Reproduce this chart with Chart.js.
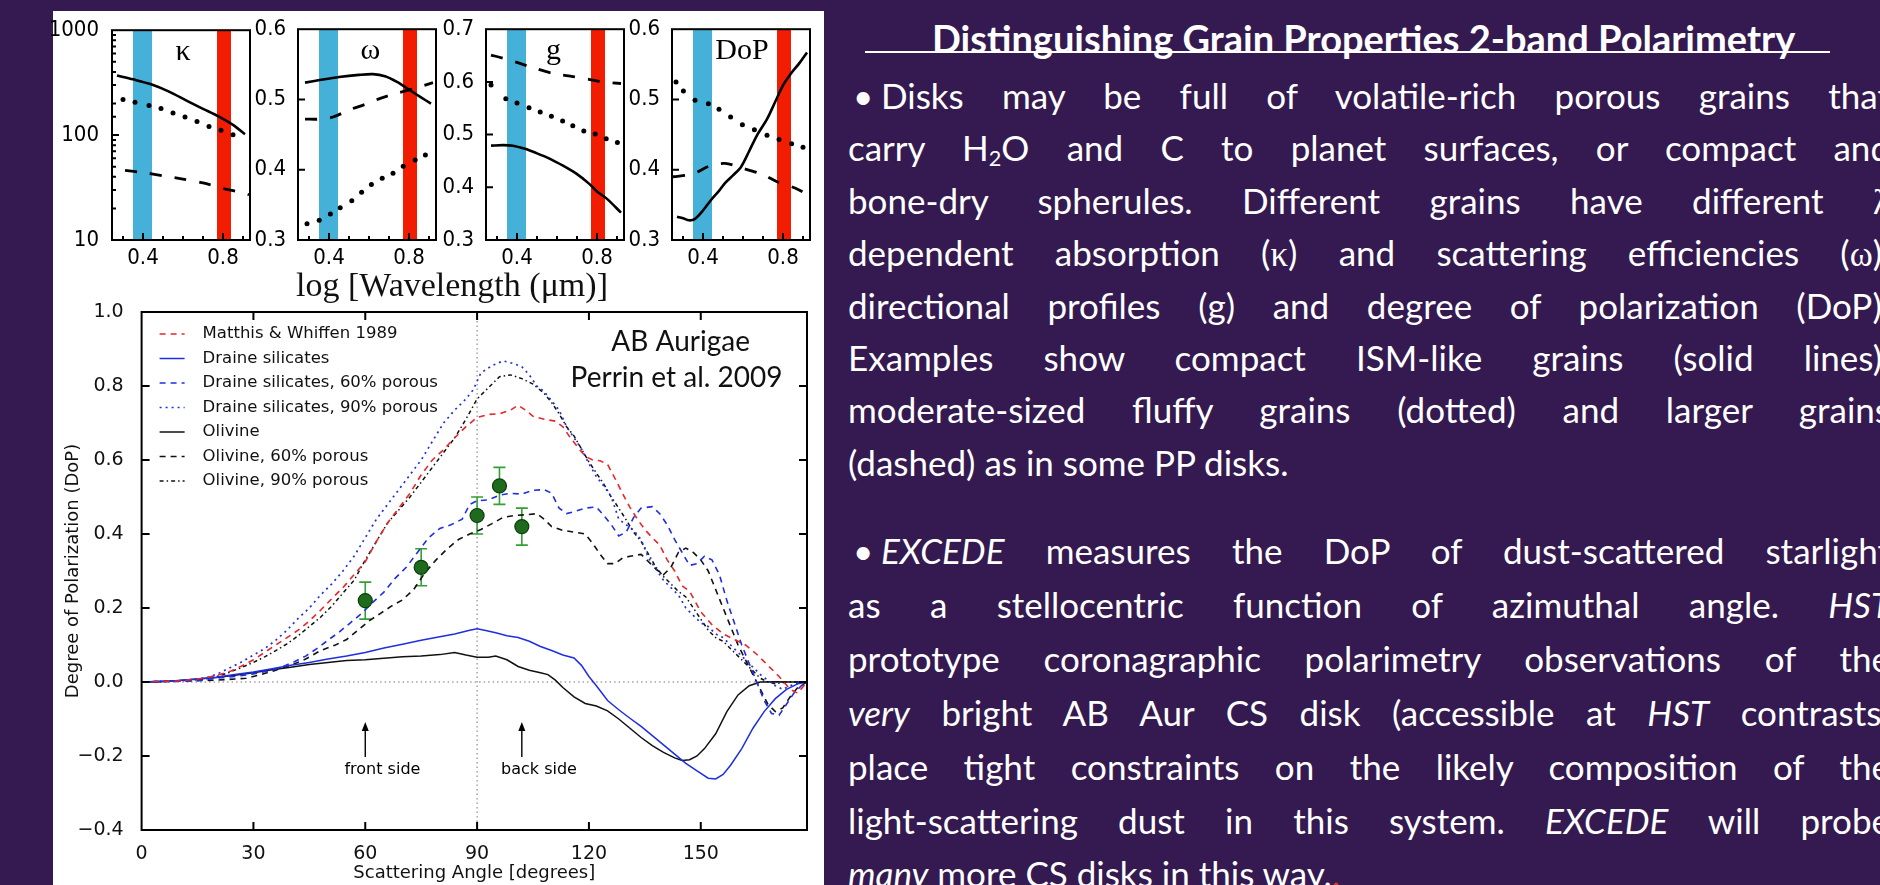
<!DOCTYPE html>
<html>
<head>
<meta charset="utf-8">
<title>Distinguishing Grain Properties 2-band Polarimetry</title>
<script src="https://cdn.jsdelivr.net/npm/chart.js@4.4.1/dist/chart.umd.min.js"></script>
<style>
  html, body { margin: 0; padding: 0; }
  body { width: 1880px; height: 885px; overflow: hidden; background: #341a50; position: relative; }
  #sheet { position: absolute; left: 53px; top: 11px; width: 771px; height: 874px; background: #fff; }
  canvas { position: absolute; }
  #wl { position: absolute; left: 292px; top: 266px; width: 320px; line-height: 38px; text-align: center;
        font-family: "Liberation Serif", serif; font-size: 34px; color: #111; }
  .head { position: absolute; left: 865px; top: 13px; width: 965px; height: 38px; border-bottom: 2.5px solid #fff;
          color: #fff; font-family: Lato, sans-serif; font-weight: bold; font-size: 38px; line-height: 38px; white-space: nowrap; }
  .head span { padding-left: 67px; position: relative; top: 6px; }
  .ln { position: absolute; left: 848px; width: 1042px; height: 40px; line-height: 40px; color: #fff;
        font-family: Lato, sans-serif; font-size: 35px; }
  .j { text-align: justify; text-align-last: justify; }
  .b { padding-left: 33px; width: 1009px; }
  .bul { position: absolute; left: 5px; top: 0; }
  .gr { font-family: "Liberation Serif", serif; }
  sub { font-size: 0.62em; vertical-align: -0.25em; line-height: 0; }
</style>
</head>
<body>
<div id="sheet"></div>
<canvas id="cKap"></canvas>
<canvas id="cOm"></canvas>
<canvas id="cG"></canvas>
<canvas id="cDop"></canvas>
<div id="wl">log [Wavelength (μm)]</div>
<canvas id="cMain"></canvas>

<div class="head"><span>Distinguishing Grain Properties 2-band Polarimetry</span></div>

<div class="ln j b" style="top:75px"><span class="bul">•</span>Disks may be full of volatile-rich porous grains that</div>
<div class="ln j" style="top:127px">carry H<sub>2</sub>O and C to planet surfaces, or compact and</div>
<div class="ln j" style="top:180px">bone-dry spherules. Different grains have different <span class="gr">λ</span></div>
<div class="ln j" style="top:232px">dependent absorption (<span class="gr">κ</span>) and scattering efficiencies (<span class="gr">ω</span>),</div>
<div class="ln j" style="top:285px">directional profiles (g) and degree of polarization (DoP).</div>
<div class="ln j" style="top:337px">Examples show compact ISM-like grains (solid lines),</div>
<div class="ln j" style="top:389px">moderate-sized fluffy grains (dotted) and larger grains</div>
<div class="ln" style="top:442px">(dashed) as in some PP disks.</div>

<div class="ln j b" style="top:530px"><span class="bul">•</span><i>EXCEDE</i> measures the DoP of dust-scattered starlight</div>
<div class="ln j" style="top:584px">as a stellocentric function of azimuthal angle. <i>HST</i></div>
<div class="ln j" style="top:638px">prototype coronagraphic polarimetry observations of the</div>
<div class="ln j" style="top:692px"><i>very</i> bright AB Aur CS disk (accessible at <i>HST</i> contrasts)</div>
<div class="ln j" style="top:746px">place tight constraints on the likely composition of the</div>
<div class="ln j" style="top:800px">light-scattering dust in this system. <i>EXCEDE</i> will probe</div>
<div class="ln" style="top:853px"><i>many</i> more CS disks in this way.<span style="color:#d23a2a">.</span></div>

<script>
// ---- small panels: x = wavelength (um) ----
const blueBand = [0.35, 0.445];
const redBand = [0.77, 0.84];

const kapSolidX = [0.27, 0.35, 0.44, 0.53, 0.62, 0.70, 0.78, 0.85, 0.91];
const kapSolidY = [370, 340, 305, 260, 212, 178, 150, 125, 102];
const kapDotX = [0.30, 0.36, 0.43, 0.49, 0.55, 0.61, 0.67, 0.73, 0.79, 0.85];
const kapDotY = [219, 206, 192, 179, 162, 149, 135, 121, 111, 101];
const kapDashX = [0.31, 0.40, 0.50, 0.60, 0.70, 0.80, 0.87, 0.93];
const kapDashY = [46, 44, 41, 38, 35, 31, 29, 27];

const omSolidX = [0.28, 0.36, 0.45, 0.55, 0.62, 0.68, 0.74, 0.80, 0.86, 0.91];
const omSolidY = [0.524, 0.528, 0.532, 0.535, 0.536, 0.533, 0.525, 0.514, 0.503, 0.494];
const omDashX = [0.28, 0.35, 0.42, 0.50, 0.58, 0.66, 0.74, 0.82, 0.92];
const omDashY = [0.472, 0.472, 0.475, 0.485, 0.493, 0.502, 0.509, 0.515, 0.524];
const omDotX = [0.29, 0.351, 0.407, 0.456, 0.514, 0.563, 0.612, 0.666, 0.72, 0.771, 0.831, 0.882];
const omDotY = [0.323, 0.328, 0.337, 0.346, 0.356, 0.368, 0.379, 0.388, 0.395, 0.405, 0.414, 0.421];

const gDashX = [0.27, 0.33, 0.40, 0.48, 0.58, 0.68, 0.76, 0.83, 0.92];
const gDashY = [0.651, 0.645, 0.637, 0.627, 0.616, 0.61, 0.605, 0.6, 0.597];
const gDotX = [0.27, 0.344, 0.4, 0.46, 0.516, 0.572, 0.628, 0.679, 0.734, 0.791, 0.846, 0.902];
const gDotY = [0.594, 0.568, 0.56, 0.551, 0.543, 0.535, 0.526, 0.517, 0.507, 0.501, 0.492, 0.485];
const gSolidX = [0.27, 0.33, 0.38, 0.44, 0.49, 0.56, 0.63, 0.70, 0.76, 0.80, 0.85, 0.92];
const gSolidY = [0.479, 0.48, 0.479, 0.473, 0.466, 0.455, 0.441, 0.425, 0.407, 0.392, 0.378, 0.352];

const dopDotX = [0.265, 0.302, 0.36, 0.427, 0.48, 0.538, 0.597, 0.657, 0.72, 0.78, 0.843, 0.9];
const dopDotY = [0.525, 0.512, 0.499, 0.494, 0.486, 0.475, 0.464, 0.457, 0.449, 0.443, 0.437, 0.432];
const dopDashX = [0.25, 0.35, 0.43, 0.51, 0.60, 0.70, 0.77, 0.86, 0.92];
const dopDashY = [0.39, 0.394, 0.405, 0.409, 0.402, 0.393, 0.383, 0.374, 0.365];
const dopSolidX = [0.27, 0.30, 0.33, 0.36, 0.40, 0.44, 0.48, 0.51, 0.55, 0.59, 0.63, 0.67, 0.72, 0.76, 0.80, 0.84, 0.88, 0.92];
const dopSolidY = [0.333, 0.331, 0.328, 0.33, 0.342, 0.357, 0.37, 0.381, 0.392, 0.404, 0.426, 0.449, 0.472, 0.496, 0.52, 0.537, 0.551, 0.567];

// ---- main plot: scattering angle (deg) vs DoP ----
const mwAng = [0,10,15,18,21,24,27,30,33,36,39,42,45,48,51,54,57,60,63,66,69,72,75,78,81,84,87,90,93,96,99,101,103,105,108,111,113,115,117,119,121,123,125,127,129,131,133,135,137,139,141,143,145,147,150,153,156,159,162,165,168,171,174,176,178.5];
const mwDoP = [0,0.003,0.008,0.013,0.02,0.03,0.044,0.06,0.08,0.1,0.12,0.14,0.165,0.194,0.225,0.255,0.29,0.325,0.38,0.43,0.47,0.51,0.56,0.6,0.628,0.66,0.69,0.715,0.723,0.725,0.735,0.748,0.735,0.718,0.71,0.705,0.69,0.66,0.635,0.61,0.6,0.598,0.588,0.55,0.51,0.472,0.44,0.412,0.39,0.37,0.33,0.3,0.26,0.245,0.19,0.155,0.13,0.115,0.1,0.075,0.045,0.015,-0.02,-0.03,0];

const drAng = [0,10,15,20,25,30,35,40,45,50,55,60,65,70,75,80,84,88,90,92,95,98,101,104,107,110,113,116,118,120,122,125,128,131,134,137,140,143,146,149,152,154,156,158,161,164,167,170,173,176,178.5];
const drDoP = [0,0.004,0.008,0.013,0.02,0.027,0.036,0.045,0.053,0.062,0.07,0.08,0.092,0.102,0.113,0.122,0.13,0.14,0.144,0.14,0.133,0.125,0.12,0.11,0.096,0.085,0.073,0.065,0.045,0.015,-0.01,-0.05,-0.075,-0.098,-0.12,-0.145,-0.17,-0.195,-0.22,-0.24,-0.26,-0.262,-0.25,-0.225,-0.18,-0.125,-0.08,-0.045,-0.02,-0.005,0];

const dr60Ang = [0,10,15,20,25,30,35,38,41,44,47,50,53,56,59,62,65,68,71,74,77,80,83,86,88,90,93,96,99,102,105,108,110,112,114,116,119,122,124,126,128,130,132,134,137,139,141,143,145,147,149,151,153,155,157,159,161,163,165,167,169,171,173,175,177,178.5];
const dr60DoP = [0,0.002,0.004,0.01,0.015,0.022,0.032,0.042,0.055,0.07,0.09,0.113,0.135,0.16,0.185,0.215,0.243,0.28,0.31,0.35,0.39,0.415,0.425,0.44,0.48,0.49,0.492,0.505,0.51,0.508,0.518,0.52,0.51,0.47,0.455,0.46,0.47,0.473,0.45,0.425,0.395,0.405,0.445,0.47,0.474,0.455,0.425,0.385,0.35,0.315,0.32,0.34,0.33,0.29,0.22,0.16,0.1,0.05,0,-0.05,-0.085,-0.09,-0.06,-0.03,-0.01,0];

const dr90Ang = [0,10,15,18,21,24,27,30,33,36,39,42,45,48,51,54,57,60,63,66,69,72,75,78,81,84,87,89,91,94,97,100,102,104,106,108,110,112,114,116,118,120,122,124,126,128,130,132,134,136,138,140,142,144,146,148,150,152,154,156,158,160,162,164,166,168,170,172,174,177,178.5];
const dr90DoP = [0,0.003,0.008,0.013,0.025,0.04,0.055,0.073,0.09,0.113,0.14,0.172,0.2,0.235,0.265,0.3,0.34,0.39,0.44,0.48,0.52,0.56,0.6,0.65,0.7,0.735,0.765,0.79,0.835,0.855,0.868,0.86,0.852,0.83,0.8,0.785,0.76,0.735,0.69,0.66,0.63,0.59,0.555,0.53,0.5,0.44,0.425,0.41,0.385,0.335,0.305,0.275,0.255,0.235,0.2,0.18,0.16,0.15,0.13,0.12,0.1,0.08,0.06,0.04,0.02,0.005,-0.01,-0.02,-0.01,0,0];

const olAng = [0,5,10,15,20,25,30,35,40,45,50,55,60,65,70,75,80,84,87,90,93,95,98,101,104,107,109,111,113,116,119,122,125,128,131,134,137,140,143,145,147,149,151,154,157,160,163,166,170,175,178.5];
const olDoP = [0,0.001,0.004,0.008,0.012,0.018,0.025,0.033,0.04,0.047,0.053,0.058,0.06,0.064,0.068,0.07,0.074,0.08,0.073,0.067,0.067,0.07,0.06,0.042,0.032,0.025,0.02,0.005,-0.015,-0.04,-0.058,-0.065,-0.078,-0.1,-0.125,-0.15,-0.172,-0.19,-0.205,-0.212,-0.21,-0.2,-0.18,-0.14,-0.08,-0.035,-0.01,0,0.001,0,0];

const ol60Ang = [0,10,20,25,28,32,36,40,44,48,52,55,58,61,64,67,70,73,76,79,82,85,88,91,94,97,100,103,106,108,110,113,116,119,121,123,125,127,129,131,134,136,138,140,142,144,146,148,150,152,154,156,158,160,162,164,166,168,170,172,174,176,178.5];
const ol60DoP = [0,0.002,0.005,0.008,0.01,0.02,0.032,0.045,0.062,0.085,0.1,0.115,0.14,0.165,0.185,0.205,0.222,0.25,0.295,0.33,0.36,0.385,0.4,0.412,0.428,0.445,0.45,0.452,0.455,0.44,0.42,0.41,0.405,0.4,0.375,0.345,0.32,0.32,0.335,0.34,0.345,0.325,0.305,0.29,0.31,0.35,0.362,0.35,0.33,0.3,0.25,0.2,0.15,0.1,0.06,0.02,-0.02,-0.06,-0.08,-0.07,-0.04,-0.015,0];

const ol90Ang = [0,10,15,18,21,24,27,30,33,36,39,42,45,48,51,54,57,60,63,66,69,72,75,78,81,84,87,90,93,96,99,102,105,108,110,112,114,116,118,120,122,124,126,128,130,132,134,136,138,140,142,144,146,148,150,152,154,156,158,160,162,164,166,168,170,173,176,178.5];
const ol90DoP = [0,0.003,0.006,0.01,0.017,0.028,0.04,0.053,0.068,0.085,0.103,0.125,0.15,0.175,0.205,0.24,0.275,0.33,0.38,0.43,0.465,0.5,0.54,0.58,0.62,0.66,0.71,0.765,0.795,0.825,0.83,0.82,0.805,0.78,0.755,0.725,0.69,0.665,0.63,0.595,0.565,0.535,0.5,0.47,0.438,0.405,0.38,0.345,0.31,0.285,0.265,0.245,0.23,0.2,0.17,0.14,0.12,0.11,0.09,0.07,0.05,0.03,0.01,0,-0.005,0,0,0];

// AB Aur measurements (Perrin et al. 2009)
const obsAng = [60, 75, 90, 96, 102];
const obsDoP = [0.22, 0.31, 0.45, 0.53, 0.42];
const obsErr = [0.05, 0.05, 0.05, 0.05, 0.05];

const arrowAng = [60, 102];
const arrowText = ['front side', 'back side'];

const RED = '#e8262b', BLUE = '#1f2fe0', BLACK = '#111';
const pts = (xs, ys) => xs.map((x, i) => ({ x: x, y: ys[i] }));

// ---------- plugins ----------
const boxTicks = {
  id: 'boxTicks',
  afterDatasetsDraw(chart, args, o) {
    const { ctx, chartArea: a } = chart;
    const sx = chart.scales.x, sy = chart.scales.y;
    ctx.save();
    ctx.strokeStyle = '#000';
    ctx.lineWidth = o.width;
    ctx.setLineDash([]);
    ctx.beginPath();
    sx.ticks.forEach(t => {
      const p = sx.getPixelForValue(t.value);
      if (p <= a.left + 1 || p >= a.right - 1) return;
      const len = t.label ? o.major : o.minor;
      ctx.moveTo(p, a.bottom); ctx.lineTo(p, a.bottom - len);
      if (o.allSides) { ctx.moveTo(p, a.top); ctx.lineTo(p, a.top + len); }
    });
    sy.ticks.forEach(t => {
      const p = sy.getPixelForValue(t.value);
      if (p <= a.top + 1 || p >= a.bottom - 1) return;
      const len = t.label ? o.major : o.minor;
      ctx.moveTo(a.left, p); ctx.lineTo(a.left + len, p);
      if (o.allSides) { ctx.moveTo(a.right, p); ctx.lineTo(a.right - len, p); }
    });
    ctx.stroke();
    ctx.strokeRect(a.left, a.top, a.right - a.left, a.bottom - a.top);
    ctx.restore();
  }
};

const bands = {
  id: 'bands',
  beforeDatasetsDraw(chart, args, o) {
    const { ctx, chartArea: a } = chart;
    const x = chart.scales.x;
    ctx.save();
    o.list.forEach(b => {
      const x0 = x.getPixelForValue(b.range[0]), x1 = x.getPixelForValue(b.range[1]);
      ctx.fillStyle = b.color;
      ctx.fillRect(x0, a.top, x1 - x0, a.bottom - a.top);
    });
    ctx.restore();
  }
};

const tag = {
  id: 'tag',
  afterDatasetsDraw(chart, args, o) {
    const { ctx, chartArea: a } = chart;
    ctx.save();
    ctx.font = '30px "Liberation Serif", serif';
    ctx.fillStyle = '#000';
    ctx.textAlign = 'center';
    ctx.textBaseline = 'middle';
    ctx.fillText(o.text, chart.scales.x.getPixelForValue(o.x), a.top + 22);
    ctx.restore();
  }
};

// ---------- small panels ----------
const smallTickFont = { family: '"Liberation Sans Narrow", "DejaVu Sans Condensed", sans-serif', size: 22 };

function smallPanel(id, boxLeft, yOpts, series, tagText, tagX) {
  const cv = document.getElementById(id);
  cv.width = 210; cv.height = 258;
  cv.style.left = (boxLeft - 64) + 'px';
  cv.style.top = '12px';
  const datasets = series.map(s => {
    const d = { data: pts(s[0], s[1]), borderColor: '#000', backgroundColor: '#000', pointRadius: 0, tension: 0.3 };
    if (s[2] === 'solid') { d.borderWidth = 2.6; }
    if (s[2] === 'dash') { d.borderWidth = 2.8; d.borderDash = [12, 13]; }
    if (s[2] === 'dot') { d.showLine = false; d.pointRadius = 2.5; d.pointBorderWidth = 0; }
    return d;
  });
  new Chart(cv, {
    type: 'line',
    data: { datasets: datasets },
    options: {
      responsive: false, animation: false, devicePixelRatio: 1,
      layout: { padding: { top: 12, right: 8, bottom: 0, left: 0 } },
      plugins: {
        legend: { display: false }, tooltip: { enabled: false },
        bands: { list: [{ range: blueBand, color: '#45b0d8' }, { range: redBand, color: '#f21c00' }] },
        boxTicks: { width: 2, major: 7, minor: 4, allSides: false },
        tag: { text: tagText, x: tagX }
      },
      scales: {
        x: {
          type: 'linear', min: 0.245, max: 0.935,
          grid: { display: false }, border: { display: false },
          ticks: {
            stepSize: 0.1, includeBounds: false, autoSkip: false, maxRotation: 0,
            padding: -3, color: '#000', font: smallTickFont,
            callback: v => (Math.abs(v - 0.4) < 1e-6 || Math.abs(v - 0.8) < 1e-6) ? v.toFixed(1) : ''
          },
          afterFit: s => { s.height = 30; }
        },
        y: Object.assign({
          grid: { display: false }, border: { display: false },
          afterFit: s => { s.width = 64; }
        }, yOpts)
      }
    },
    plugins: [bands, boxTicks, tag]
  });
}

const linY = (min, max) => ({
  type: 'linear', min: min, max: max,
  ticks: { stepSize: 0.1, autoSkip: false, padding: 4, color: '#000', font: smallTickFont, callback: v => v.toFixed(1) }
});

smallPanel('cKap', 112, {
  type: 'logarithmic', min: 10, max: 1000,
  ticks: {
    autoSkip: false, padding: 5, color: '#000', font: smallTickFont,
    callback: v => { const l = Math.log10(v); return Math.abs(l - Math.round(l)) < 1e-6 ? String(Math.round(v)) : ''; }
  }
}, [[kapSolidX, kapSolidY, 'solid'], [kapDotX, kapDotY, 'dot'], [kapDashX, kapDashY, 'dash']], 'κ', 0.6);

smallPanel('cOm', 298, linY(0.3, 0.6),
  [[omSolidX, omSolidY, 'solid'], [omDotX, omDotY, 'dot'], [omDashX, omDashY, 'dash']], 'ω', 0.607);

smallPanel('cG', 486, linY(0.3, 0.7),
  [[gSolidX, gSolidY, 'solid'], [gDotX, gDotY, 'dot'], [gDashX, gDashY, 'dash']], 'g', 0.583);

smallPanel('cDop', 672, linY(0.3, 0.6),
  [[dopSolidX, dopSolidY, 'solid'], [dopDotX, dopDotY, 'dot'], [dopDashX, dopDashY, 'dash']], 'DoP', 0.595);

// ---------- main plot ----------
const overlay = {
  id: 'overlay',
  beforeDatasetsDraw(chart) {
    const { ctx, chartArea: a } = chart;
    const x = chart.scales.x, y = chart.scales.y;
    ctx.save();
    // dotted guides at 0 DoP and 90 deg
    ctx.strokeStyle = '#777';
    ctx.lineWidth = 1;
    ctx.setLineDash([1.5, 3]);
    ctx.beginPath();
    ctx.moveTo(a.left, y.getPixelForValue(0)); ctx.lineTo(a.right, y.getPixelForValue(0));
    ctx.moveTo(x.getPixelForValue(90), a.top); ctx.lineTo(x.getPixelForValue(90), a.bottom);
    ctx.stroke();
    // error bars
    ctx.setLineDash([]);
    ctx.strokeStyle = '#33a033';
    ctx.lineWidth = 1.6;
    ctx.beginPath();
    obsAng.forEach((ang, i) => {
      const px = x.getPixelForValue(ang);
      const hi = y.getPixelForValue(obsDoP[i] + obsErr[i]);
      const lo = y.getPixelForValue(obsDoP[i] - obsErr[i]);
      ctx.moveTo(px, hi); ctx.lineTo(px, lo);
      ctx.moveTo(px - 6, hi); ctx.lineTo(px + 6, hi);
      ctx.moveTo(px - 6, lo); ctx.lineTo(px + 6, lo);
    });
    ctx.stroke();
    ctx.restore();
  },
  afterDraw(chart) {
    const { ctx, chartArea: a } = chart;
    const x = chart.scales.x, y = chart.scales.y;
    ctx.save();
    // arrows and labels
    ctx.strokeStyle = '#000'; ctx.fillStyle = '#000'; ctx.lineWidth = 1.4;
    ctx.font = '16px "DejaVu Sans", sans-serif';
    ctx.textAlign = 'center'; ctx.textBaseline = 'middle';
    arrowAng.forEach((ang, i) => {
      const px = x.getPixelForValue(ang);
      const y0 = y.getPixelForValue(-0.203), y1 = y.getPixelForValue(-0.108);
      ctx.beginPath(); ctx.moveTo(px, y0); ctx.lineTo(px, y1 + 6); ctx.stroke();
      ctx.beginPath(); ctx.moveTo(px, y1); ctx.lineTo(px - 3.5, y1 + 9); ctx.lineTo(px + 3.5, y1 + 9); ctx.closePath(); ctx.fill();
      ctx.fillText(arrowText[i], x.getPixelForValue(ang + 4.6), y.getPixelForValue(-0.237));
    });
    // annotation
    ctx.fillStyle = '#111';
    ctx.font = '28px Lato, sans-serif';
    ctx.fillText('AB Aurigae', x.getPixelForValue(144.6), y.getPixelForValue(0.92));
    ctx.fillText('Perrin et al. 2009', x.getPixelForValue(143.5), y.getPixelForValue(0.823));
    // legend
    ctx.textAlign = 'left';
    ctx.font = '16.5px "DejaVu Sans", sans-serif';
    let row = 0;
    chart.data.datasets.forEach(ds => {
      if (!ds.label) return;
      const ly = a.top + 22 + row * 24.5;
      ctx.strokeStyle = ds.borderColor;
      ctx.lineWidth = ds.borderWidth;
      ctx.setLineDash(ds.borderDash || []);
      ctx.beginPath(); ctx.moveTo(a.left + 18, ly); ctx.lineTo(a.left + 43, ly); ctx.stroke();
      ctx.fillStyle = '#111';
      ctx.fillText(ds.label, a.left + 61, ly);
      row++;
    });
    ctx.restore();
  }
};

const curve = (label, xs, ys, color, dash, width) => ({
  label: label, data: pts(xs, ys), borderColor: color, borderWidth: width,
  borderDash: dash, pointRadius: 0, tension: 0, order: 1
});

const cMain = document.getElementById('cMain');
cMain.width = 757; cMain.height = 595;
cMain.style.left = '60px'; cMain.style.top = '290px';

const tickFont = { family: '"DejaVu Sans", sans-serif', size: 19 };
const titleFont = { family: '"DejaVu Sans", sans-serif', size: 18 };

new Chart(cMain, {
  type: 'line',
  data: {
    datasets: [
      { data: pts(obsAng, obsDoP), showLine: false, pointRadius: 7, pointBackgroundColor: '#1e6b1e',
        pointBorderColor: '#0d3d0d', pointBorderWidth: 1.2, order: 0 },
      curve('Matthis & Whiffen 1989', mwAng, mwDoP, RED, [6, 5], 1.6),
      curve('Draine silicates', drAng, drDoP, BLUE, [], 1.5),
      curve('Draine silicates, 60% porous', dr60Ang, dr60DoP, BLUE, [6, 5], 1.6),
      curve('Draine silicates, 90% porous', dr90Ang, dr90DoP, BLUE, [2, 4], 1.7),
      curve('Olivine', olAng, olDoP, BLACK, [], 1.5),
      curve('Olivine, 60% porous', ol60Ang, ol60DoP, BLACK, [6, 5], 1.6),
      curve('Olivine, 90% porous', ol90Ang, ol90DoP, BLACK, [4, 3, 1.5, 3], 1.5)
    ]
  },
  options: {
    responsive: false, animation: false, devicePixelRatio: 1,
    layout: { padding: { top: 22, right: 10, bottom: 0, left: 0 } },
    plugins: {
      legend: { display: false }, tooltip: { enabled: false },
      boxTicks: { width: 2, major: 8, minor: 4, allSides: true }
    },
    scales: {
      x: {
        type: 'linear', min: 0, max: 178.5,
        grid: { display: false }, border: { display: false },
        ticks: { stepSize: 30, includeBounds: false, autoSkip: false, maxRotation: 0, padding: 5,
                 color: '#111', font: tickFont },
        title: { display: true, text: 'Scattering Angle [degrees]', color: '#111', font: titleFont,
                 padding: { top: 0, bottom: 1 } },
        afterFit: s => { s.height = 55; }
      },
      y: {
        type: 'linear', min: -0.4, max: 1.0,
        grid: { display: false }, border: { display: false },
        ticks: { stepSize: 0.2, autoSkip: false, padding: 10, color: '#111', font: tickFont,
                 callback: v => Math.abs(v) < 1e-9 ? '0.0' : v.toFixed(1).replace('-', '\u2212') },
        title: { display: true, text: 'Degree of Polarization (DoP)', color: '#111', font: titleFont,
                 padding: { top: 3, bottom: 0 } },
        afterFit: s => { s.width = 81.6; }
      }
    }
  },
  plugins: [overlay, boxTicks]
});
</script>
</body>
</html>
